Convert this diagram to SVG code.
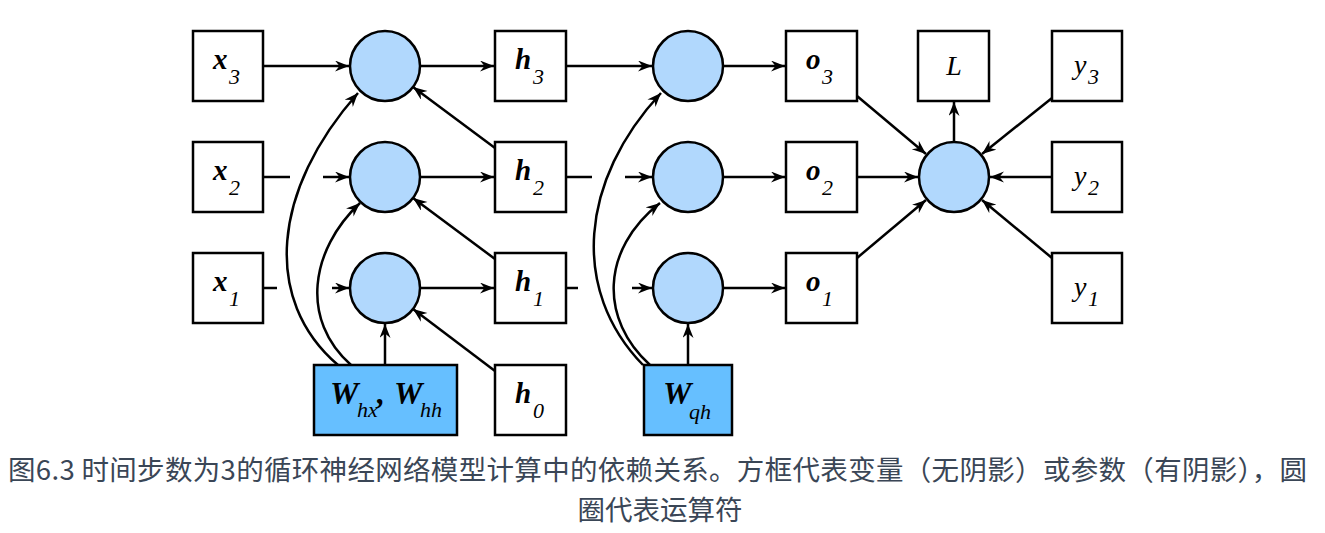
<svg xmlns="http://www.w3.org/2000/svg" width="1325" height="533" viewBox="0 0 1325 533">
<style>
.box{fill:#fff;stroke:#000;stroke-width:2.5}
.par{fill:#66bfff;stroke:#000;stroke-width:2.5}
.op{fill:#b1d8fd;stroke:#000;stroke-width:2.5}
.e{fill:none;stroke:#000;stroke-width:2.5}
.v{font-family:"Liberation Serif",serif;font-weight:bold;font-style:italic;font-size:29px;fill:#000}
.w{font-family:"Liberation Serif",serif;font-weight:bold;font-style:italic;font-size:32px;fill:#000}
.s{font-family:"Liberation Serif",serif;font-style:italic;font-size:22px;fill:#000}
.i{font-family:"Liberation Serif",serif;font-style:italic;font-size:28px;fill:#000}
.cap{font-family:"Noto Sans CJK SC","Noto Sans",sans-serif;font-size:27.5px;fill:#3a4656}
</style>
<defs>
<marker id="ah" markerUnits="userSpaceOnUse" markerWidth="16" markerHeight="12" refX="14" refY="5.5" orient="auto">
<path d="M0,0 L14,5.5 L0,11 L4.5,5.5 Z" fill="#000"/>
</marker>
</defs>
<g id="connectors">
<path class="e" marker-end="url(#ah)" d="M263,66 H349"/>
<path class="e" d="M263,177 H290"/>
<path class="e" marker-end="url(#ah)" d="M323,177 H349"/>
<path class="e" d="M263,288 H277"/>
<path class="e" marker-end="url(#ah)" d="M332,288 H349"/>
<path class="e" marker-end="url(#ah)" d="M420,66 H494"/>
<path class="e" marker-end="url(#ah)" d="M420,177 H494"/>
<path class="e" marker-end="url(#ah)" d="M420,288 H494"/>
<path class="e" marker-end="url(#ah)" d="M495,148 L413,87"/>
<path class="e" marker-end="url(#ah)" d="M495,259 L413,198"/>
<path class="e" marker-end="url(#ah)" d="M495,371 L413,309"/>
<path class="e" marker-end="url(#ah)" d="M385,365 V324"/>
<path class="e" marker-end="url(#ah)" d="M338,365 C262,300 272,190 358,93"/>
<path class="e" marker-end="url(#ah)" d="M351,365 C300,320 310,250 360,203"/>
<path class="e" marker-end="url(#ah)" d="M566,66 H652"/>
<path class="e" d="M566,177 H592"/>
<path class="e" marker-end="url(#ah)" d="M625,177 H652"/>
<path class="e" d="M566,288 H578"/>
<path class="e" marker-end="url(#ah)" d="M632,288 H652"/>
<path class="e" marker-end="url(#ah)" d="M688,365 V324"/>
<path class="e" marker-end="url(#ah)" d="M643,365 C570,290 580,180 661,93"/>
<path class="e" marker-end="url(#ah)" d="M650,365 C600,320 600,250 660,203"/>
<path class="e" marker-end="url(#ah)" d="M723,66 H785"/>
<path class="e" marker-end="url(#ah)" d="M723,177 H785"/>
<path class="e" marker-end="url(#ah)" d="M723,288 H785"/>
<path class="e" marker-end="url(#ah)" d="M857,96 L926,154"/>
<path class="e" marker-end="url(#ah)" d="M857,177 H918"/>
<path class="e" marker-end="url(#ah)" d="M857,258 L926,200"/>
<path class="e" marker-end="url(#ah)" d="M954,142 V102"/>
<path class="e" marker-end="url(#ah)" d="M1052,98 L982,154"/>
<path class="e" marker-end="url(#ah)" d="M1052,177 H990"/>
<path class="e" marker-end="url(#ah)" d="M1052,258 L982,200"/>
</g>
<g id="x3"><rect class="box" x="193" y="31" width="70" height="70"/><text class="v" x="213" y="69">x</text><text class="s" x="229" y="84">3</text></g>
<g id="x2"><rect class="box" x="193" y="142" width="70" height="70"/><text class="v" x="213" y="180">x</text><text class="s" x="229" y="195">2</text></g>
<g id="x1"><rect class="box" x="193" y="253" width="70" height="70"/><text class="v" x="213" y="291">x</text><text class="s" x="229" y="306">1</text></g>
<g id="c13"><circle class="op" cx="385" cy="66" r="35"/></g>
<g id="c12"><circle class="op" cx="385" cy="177" r="35"/></g>
<g id="c11"><circle class="op" cx="385" cy="288" r="35"/></g>
<g id="h3"><rect class="box" x="495" y="31" width="71" height="70"/><text class="v" x="515" y="69">h</text><text class="s" x="533" y="84">3</text></g>
<g id="h2"><rect class="box" x="495" y="142" width="71" height="70"/><text class="v" x="515" y="180">h</text><text class="s" x="533" y="195">2</text></g>
<g id="h1"><rect class="box" x="495" y="253" width="71" height="70"/><text class="v" x="515" y="291">h</text><text class="s" x="533" y="306">1</text></g>
<g id="h0"><rect class="box" x="495" y="365" width="71" height="70"/><text class="v" x="515" y="403">h</text><text class="s" x="533" y="418">0</text></g>
<g id="Whx"><rect class="par" x="314" y="365" width="143" height="70"/><text class="w" x="330" y="404">W</text><text class="s" x="357" y="417">hx</text><text class="w" x="377" y="404">,</text><text class="w" x="394" y="404">W</text><text class="s" x="420" y="417">hh</text></g>
<g id="c23"><circle class="op" cx="688" cy="66" r="35"/></g>
<g id="c22"><circle class="op" cx="688" cy="177" r="35"/></g>
<g id="c21"><circle class="op" cx="688" cy="288" r="35"/></g>
<g id="Wqh"><rect class="par" x="644" y="365" width="88" height="70"/><text class="w" x="663" y="404">W</text><text class="s" x="689" y="419">qh</text></g>
<g id="o3"><rect class="box" x="786" y="31" width="71" height="70"/><text class="v" x="806" y="69">o</text><text class="s" x="822" y="84">3</text></g>
<g id="o2"><rect class="box" x="786" y="142" width="71" height="70"/><text class="v" x="806" y="180">o</text><text class="s" x="822" y="195">2</text></g>
<g id="o1"><rect class="box" x="786" y="253" width="71" height="70"/><text class="v" x="806" y="291">o</text><text class="s" x="822" y="306">1</text></g>
<g id="L"><rect class="box" x="918" y="31" width="71" height="70"/><text class="i" x="954" y="75" text-anchor="middle">L</text></g>
<g id="loss"><circle class="op" cx="954" cy="177" r="35"/></g>
<g id="y3"><rect class="box" x="1052" y="31" width="70" height="70"/><text class="i" x="1074" y="74">y</text><text class="s" x="1088" y="84">3</text></g>
<g id="y2"><rect class="box" x="1052" y="142" width="70" height="70"/><text class="i" x="1074" y="185">y</text><text class="s" x="1088" y="195">2</text></g>
<g id="y1"><rect class="box" x="1052" y="253" width="70" height="70"/><text class="i" x="1074" y="296">y</text><text class="s" x="1088" y="306">1</text></g>
<g id="caption">
<text class="cap" x="8" y="480" textLength="1299" lengthAdjust="spacing">图6.3 时间步数为3的循环神经网络模型计算中的依赖关系。方框代表变量（无阴影）或参数（有阴影），圆</text>
<text class="cap" x="660" y="520" text-anchor="middle">圈代表运算符</text>
</g>
</svg>
